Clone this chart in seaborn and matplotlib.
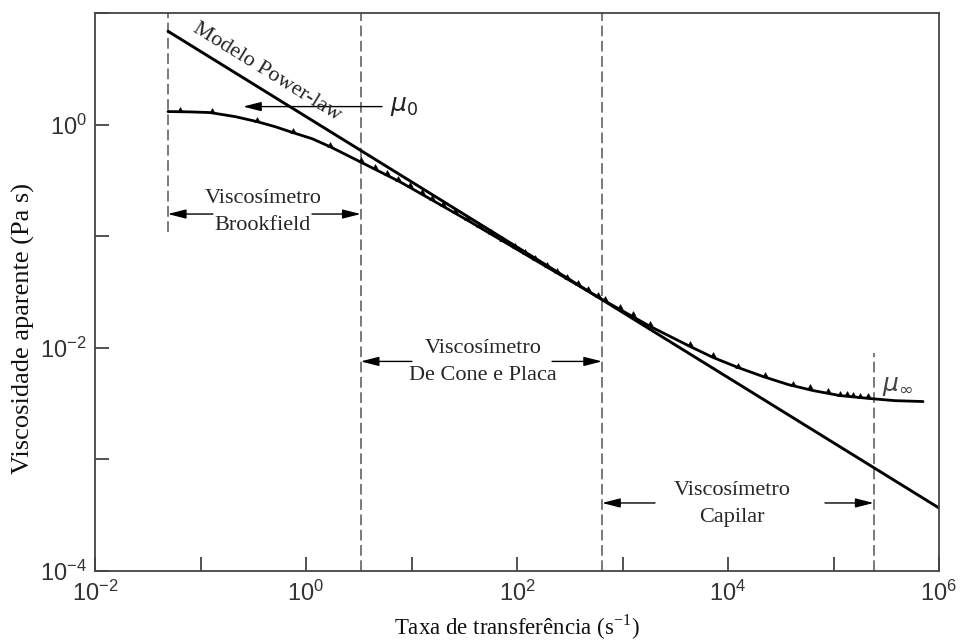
import math
import matplotlib
matplotlib.use("Agg")
import matplotlib.pyplot as plt
import pandas as pd
import seaborn as sns

# Apparent viscosity curve of a shear-thinning fluid
shear_rate = [0.0492, 0.0795, 0.123, 0.212, 0.343, 0.508, 0.753, 1.14, 1.69,
              3.25, 7.78, 15.0, 33.6, 133, 612, 1823, 4363, 7208, 12440,
              21470, 37050, 63940, 115300, 221800, 382800, 705200]
viscosity = [1.309, 1.30, 1.282, 1.180, 1.064, 0.959, 0.847, 0.748, 0.634,
             0.465, 0.307, 0.216, 0.1398, 0.0650, 0.0278, 0.01557, 0.01029,
             0.00820, 0.00666, 0.00553, 0.00469, 0.00414, 0.00373, 0.00351,
             0.00336, 0.00330]

# Measured points along the curve
meas_rate = [0.0639, 0.1285, 0.343, 0.753, 1.688, 3.32, 4.51, 5.86, 7.45, 9.68,
             12.6, 15.6, 19.9, 25.8, 33.6, 43.6, 56.7, 72.1, 95.7, 119, 148,
             192, 239, 298, 378, 471, 586, 683, 946, 1258, 1823, 4363, 7208,
             12440, 22440, 41300, 59800, 88700, 115300, 134300, 153100,
             178300, 212300]
meas_visc = [1.309, 1.277, 1.064, 0.847, 0.634, 0.460, 0.398, 0.351, 0.314,
             0.275, 0.239, 0.213, 0.187, 0.162, 0.140, 0.121, 0.1045, 0.0915,
             0.0780, 0.0690, 0.0611, 0.0528, 0.0468, 0.0415, 0.0362, 0.0321,
             0.0284, 0.0265, 0.0223, 0.0191, 0.01557, 0.01029, 0.00820,
             0.00666, 0.00546, 0.00459, 0.00424, 0.00394, 0.00373, 0.00368,
             0.00363, 0.00358, 0.00352]

# Power-law model (straight line on log-log axes)
pl_rate = [0.0492, 1e6]
pl_visc = [6.86, 3.67e-4]

# Operating ranges of the viscometers
boundary_rate = [0.049, 3.3, 640, 2.4e5]
boundary_low = [0.11, 1e-4, 1e-4, 1e-4]
boundary_high = [10, 10, 10, 0.0089]

instrument_names = ["Viscosímetro\nBrookfield",
                    "Viscosímetro\nDe Cone e Placa",
                    "Viscosímetro\nCapilar"]
instrument_text_x = [0.391, 47.6, 10900]
instrument_text_y = [0.165, 0.0075, 4.0e-4]
instrument_arrow_y = [0.158, 0.00755, 4.07e-4]
instrument_arrow_from = [(0.131, 1.14), (10.1, 215), (2033, 83000)]

mu0_value = 1.45
mu0_arrow = (5.25, 0.253)
mu0_label_x = 8.5
mu_inf_label = (4.0e5, 0.0045)
model_label = (0.43, 2.95)

x_ticks = [1e-2, 1e-1, 1e0, 1e1, 1e2, 1e3, 1e4, 1e5, 1e6]
y_ticks = [1e-4, 1e-3, 1e-2, 1e-1, 1e0, 1e1]

sns.set_theme(style="white")
plt.rcParams["font.family"] = ["Liberation Serif", "DejaVu Serif"]
plt.rcParams["mathtext.fontset"] = "dejavusans"

fig = plt.figure(figsize=(9.62, 6.40), dpi=100)
ax = fig.add_axes([95 / 962, 1 - 571 / 640, 844 / 962, 558 / 640])
ax.set_xscale("log")
ax.set_yscale("log")
ax.set_xlim(1e-2, 1e6)
ax.set_ylim(1e-4, 1e1)

curve = pd.DataFrame({"rate": shear_rate, "visc": viscosity})
points = pd.DataFrame({"rate": meas_rate, "visc": meas_visc})
model = pd.DataFrame({"rate": pl_rate, "visc": pl_visc})

dash = (0, (7, 3))
ax.vlines(boundary_rate, boundary_low, boundary_high, colors="#555555",
          linewidths=1.1, linestyles=[dash])

sns.lineplot(data=model, x="rate", y="visc", ax=ax, color="black", lw=2.1,
             sort=False, estimator=None)
sns.lineplot(data=curve, x="rate", y="visc", ax=ax, color="black", lw=2.0,
             sort=False, estimator=None)
tooth = [(-1, 0), (1, 0), (0, 1.8), (-1, 0)]
sns.scatterplot(data=points, x="rate", y="visc", ax=ax, marker=tooth, s=50,
                color="black", edgecolor="black", linewidth=0.4, zorder=4)

arrow_kw = dict(arrowstyle="-|>,head_length=0.55,head_width=0.14",
                color="black", lw=1.0, shrinkA=0, shrinkB=0,
                mutation_scale=20)

# Instrument range labels with arrows pointing to the range limits
for i, name in enumerate(instrument_names):
    ax.text(instrument_text_x[i], instrument_text_y[i], name, ha="center",
            va="center", fontsize=16, linespacing=1.55)
    y = instrument_arrow_y[i]
    left_from, right_from = instrument_arrow_from[i]
    ax.annotate("", xy=(boundary_rate[i], y), xytext=(left_from, y),
                arrowprops=arrow_kw)
    ax.annotate("", xy=(boundary_rate[i + 1], y), xytext=(right_from, y),
                arrowprops=arrow_kw)

# Zero-shear and infinite-shear viscosity labels
ax.annotate("", xy=(mu0_arrow[1], mu0_value), xytext=(mu0_arrow[0], mu0_value),
            arrowprops=arrow_kw)
ax.text(mu0_label_x, mu0_value, r"$\mu_0$", ha="center", va="center",
        fontsize=18, color="#222222")
ax.text(mu_inf_label[0], mu_inf_label[1], r"$\mu_\infty$", ha="center",
        va="center", fontsize=18, color="#444444")

# Label along the power-law line
p0 = ax.transData.transform((pl_rate[0], pl_visc[0]))
p1 = ax.transData.transform((pl_rate[1], pl_visc[1]))
angle = math.degrees(math.atan2(p1[1] - p0[1], p1[0] - p0[0]))
ax.text(model_label[0], model_label[1], "Modelo Power-law", rotation=angle,
        rotation_mode="anchor", ha="center", va="center", fontsize=16)

# Axes styling
ax.minorticks_off()
ax.set_xticks(x_ticks)
ax.set_xticklabels([r"$\mathregular{10^{%d}}$" % round(math.log10(v))
                    if round(math.log10(v)) % 2 == 0 else "" for v in x_ticks])
ax.set_yticks(y_ticks)
ax.set_yticklabels([r"$\mathregular{10^{%d}}$" % round(math.log10(v))
                    if round(math.log10(v)) % 2 == 0 and v < 5 else ""
                    for v in y_ticks])
for lab in ax.get_xticklabels() + ax.get_yticklabels():
    lab.set_fontfamily(["Liberation Sans", "DejaVu Sans"])
    lab.set_fontsize(17)
    lab.set_color("#333333")
ax.tick_params(axis="both", which="major", direction="in", length=10,
               width=1.3, color="#444444", bottom=True, left=True,
               top=False, right=False)
ax.tick_params(axis="x", pad=7)
ax.tick_params(axis="y", pad=6)
for sp in ax.spines.values():
    sp.set_color("#444444")
    sp.set_linewidth(1.3)

ax.set_xlabel(r"Taxa de transferência (s$^{\mathregular{-1}}$)", fontsize=16.5,
              color="#111111", va="center")
ax.xaxis.set_label_coords(0.5, -0.1)
ax.set_ylabel("Viscosidade aparente (Pa s)", fontsize=19, color="#111111",
              va="center")
ax.yaxis.set_label_coords(-0.085, 0.434)

fig.savefig("out.png", dpi=100)
